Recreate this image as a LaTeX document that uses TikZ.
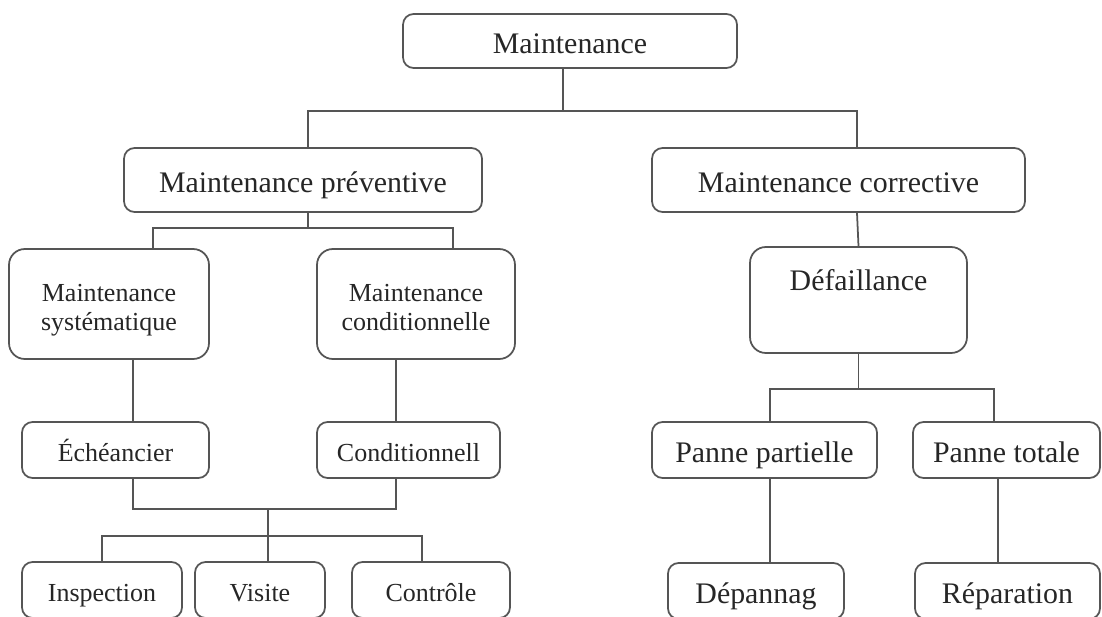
\documentclass[tikz,border=0pt]{standalone}
\usepackage{fontspec}
\setmainfont{Liberation Serif}
\usepackage{tikz}
\definecolor{edge}{HTML}{555555}
\definecolor{ink}{HTML}{262626}
\tikzstyle{block} = [rectangle, rounded corners=6pt, draw=edge, line width=1pt, text=ink, text centered, inner sep=0pt, minimum height=1.12cm, text height=15pt, text depth=1pt, font=\fontsize{17}{19}\selectfont]
\tikzstyle{small} = [font=\fontsize{14.8}{17}\selectfont, align=center, text height=14pt, text depth=0.5pt]
\tikzstyle{tall} = [text height=, text depth=0pt, rounded corners=9pt, minimum width=4cm, minimum height=2.2cm]
\tikzstyle{line} = [draw=edge, line width=1pt]

\begin{document}
\begin{tikzpicture}[x=0.02cm, y=-0.02cm]
        \useasboundingbox (0,0) rectangle (1102,616);
        % top level
        \node (maint) [block, minimum width=6.68cm, minimum height=1.08cm] at (570,41) {Maintenance};
        \node (prev) [block, minimum width=7.16cm, minimum height=1.28cm] at (303,180) {Maintenance préventive};
        \node (corr) [block, minimum width=7.46cm, minimum height=1.28cm] at (838.5,180) {Maintenance corrective};
        % preventive branch
        \node (syst) [block, small, tall] at (109,304) {\rule{0pt}{13.7pt}Maintenance\\systématique};
        \node (cond) [block, small, tall, minimum width=3.96cm] at (416,304) {\rule{0pt}{13.7pt}Maintenance\\conditionnelle};
        \node (ech) [block, small, minimum width=3.74cm] at (115.5,450) {Échéancier};
        \node (condl) [block, small, minimum width=3.66cm] at (408.5,450) {Conditionnell};
        \node (insp) [block, small, minimum width=3.2cm] at (102,590) {Inspection};
        \node (visite) [block, small, minimum width=2.6cm] at (260,590) {Visite};
        \node (ctrl) [block, small, minimum width=3.16cm] at (431,590) {Contrôle};
        % corrective branch
        \node (def) [block, rounded corners=9pt, minimum width=4.34cm, minimum height=2.12cm, text depth=0.92cm] at (858.5,300) {Défaillance};
        \node (pp) [block, minimum width=4.5cm] at (764.5,450) {Panne partielle};
        \node (pt) [block, minimum width=3.74cm] at (1006.5,450) {Panne totale};
        \node (dep) [block, minimum width=3.52cm] at (756,591) {Dépannag};
        \node (rep) [block, minimum width=3.7cm] at (1007.5,591) {Réparation};

        \draw [line] ([xshift=-0.14cm]maint.south) -- ++(0,42) coordinate (j1);
        \draw [line] ([xshift=0.1cm]prev.north) |- (j1) -| ([xshift=0.37cm]corr.north);
        \draw [line] ([xshift=0.1cm]prev.south) -- ++(0,15) coordinate (j2);
        \draw [line] ([xshift=0.88cm]syst.north) |- (j2) -| ([xshift=0.74cm]cond.north);
        \draw [line] ([xshift=0.48cm]syst.south) -- ([xshift=0.35cm]ech.north);
        \draw [line] ([xshift=-0.4cm]cond.south) -- ([xshift=-0.25cm]condl.north);
        \draw [line] ([xshift=0.35cm]ech.south) -- ++(0,30) -| ([xshift=-0.25cm]condl.south);
        \draw [line] ([xshift=0.35cm]ech.south) ++(0,30) ++(135,0) coordinate (j3) -- ([xshift=0.16cm]visite.north);
        \draw [line] (insp.north) |- ([yshift=-0.54cm]j3) -| ([xshift=-0.18cm]ctrl.north);
        \draw [line] ([xshift=0.37cm]corr.south) -- (def.north);
        \draw [line] (def.south) -- ++(0,35) coordinate (j4);
        \draw [line] ([xshift=0.11cm]pp.north) |- (j4) -| ([xshift=-0.25cm]pt.north);
        \draw [line] ([xshift=0.11cm]pp.south) -- ([xshift=0.28cm]dep.north);
        \draw [line] ([xshift=-0.17cm]pt.south) -- ([xshift=-0.19cm]rep.north);
    \end{tikzpicture}
\end{document}
